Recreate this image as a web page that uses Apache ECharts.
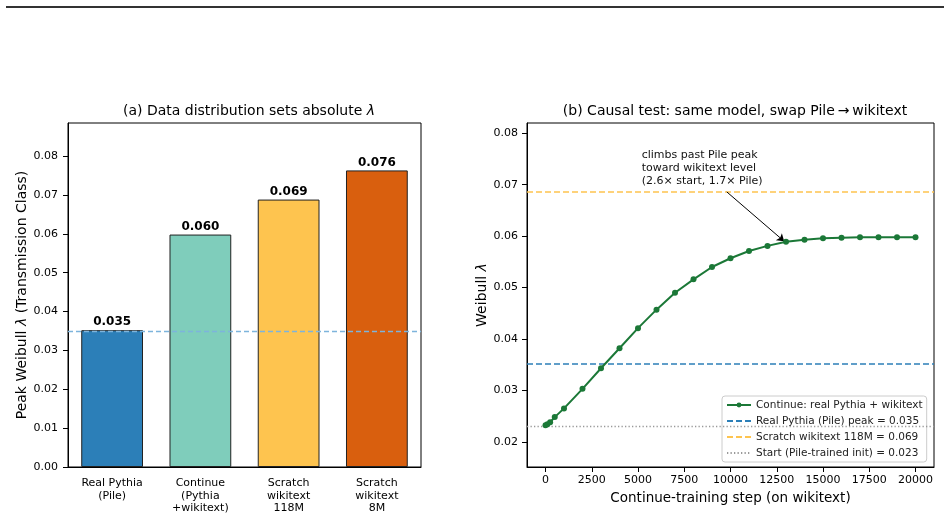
<!DOCTYPE html>
<html lang="en">
<head>
<meta charset="UTF-8" />
<title>Weibull lambda: data distribution</title>
<script src="https://cdn.jsdelivr.net/npm/echarts@6/dist/echarts.min.js"></script>
<style>
    html, body { margin: 0; padding: 0; background: #fff; }
    #main { width: 948px; height: 520px; }
</style>
</head>
<body>
<div id="main"></div>
<script type="text/javascript">
// ---- data (panel a) ----
var barCats = ['Real Pythia\n(Pile)', 'Continue\n(Pythia\n+wikitext)', 'Scratch\nwikitext\n118M', 'Scratch\nwikitext\n8M'];
var barVals = [0.0352, 0.0598, 0.0688, 0.0763];
var barColors = ['#2c7fb8', '#7fcdbb', '#fec44f', '#d95f0e'];
var leftTicks = [0, 0.01, 0.02, 0.03, 0.04, 0.05, 0.06, 0.07, 0.08];
var pileRef = 0.035;

// ---- data (panel b) ----
var steps = [0, 100, 250, 500, 1000, 2000, 3000, 4000, 5000, 6000, 7000, 8000, 9000, 10000,
             11000, 12000, 13000, 14000, 15000, 16000, 17000, 18000, 19000, 20000];
var lambdaVals = [0.0232, 0.0234, 0.0238, 0.0248, 0.0265, 0.0303, 0.0343, 0.0382, 0.0421, 0.0457,
                  0.0490, 0.0516, 0.0540, 0.0557, 0.0571, 0.0581, 0.0589, 0.0593, 0.0596, 0.0597,
                  0.0598, 0.0598, 0.0598, 0.0598];
var pilePeak = 0.0351;
var scratch118 = 0.0687;
var startVal = 0.0231;
var rightYTicks = [0.02, 0.03, 0.04, 0.05, 0.06, 0.07, 0.08];
var rightXTicks = [0, 2500, 5000, 7500, 10000, 12500, 15000, 17500, 20000];

var FONT = 'DejaVu Sans';
var myChart = echarts.init(document.getElementById('main'));

var lam = { fontStyle: 'italic', fontFamily: FONT };
var noSym = { opacity: 0 };

var option = {
    backgroundColor: '#fff',
    textStyle: { fontFamily: FONT, color: '#000' },
    animation: false,
    title: [
        {
            text: '(a) Data distribution sets absolute {i|λ}',
            left: 244, top: 99, textAlign: 'center',
            textStyle: { fontSize: 14, fontWeight: 'normal', color: '#000', fontFamily: FONT,
                rich: { i: Object.assign({ fontSize: 14 }, lam) } }
        },
        {
            text: '(b) Causal test: same model, swap Pile\u2009\u2192\u2009wikitext',
            left: 730, top: 99, textAlign: 'center',
            textStyle: { fontSize: 14, fontWeight: 'normal', color: '#000', fontFamily: FONT }
        }
    ],
    legend: {
        data: [
            { name: 'Continue: real Pythia + wikitext' },
            { name: 'Real Pythia (Pile) peak = 0.035', itemStyle: noSym },
            { name: 'Scratch wikitext 118M = 0.069', itemStyle: noSym },
            { name: 'Start (Pile-trained init) = 0.023', itemStyle: noSym }
        ],
        orient: 'vertical',
        left: 722, top: 396,
        itemWidth: 24, itemHeight: 6, itemGap: 4,
        padding: [3, 4, 3, 4],
        borderColor: '#cccccc', borderWidth: 1, borderRadius: 3,
        backgroundColor: 'rgba(255,255,255,0.85)',
        textStyle: { fontSize: 10.5, lineHeight: 12, color: '#222', fontFamily: FONT }
    },
    grid: [
        { left: 68, top: 123, width: 353, height: 344, show: true, borderColor: '#000', borderWidth: 1 },
        { left: 527, top: 123, width: 407, height: 344, show: true, borderColor: '#000', borderWidth: 1 }
    ],
    xAxis: [
        {
            gridIndex: 0, type: 'category', data: barCats,
            axisLine: { lineStyle: { color: '#000' } },
            axisTick: { alignWithLabel: true, length: 5, lineStyle: { color: '#000' } },
            axisLabel: { interval: 0, fontSize: 11, lineHeight: 12.5, margin: 10, color: '#000' }
        },
        {
            gridIndex: 1, type: 'value', min: -1000, max: 21000,
            name: 'Continue-training step (on wikitext)', nameLocation: 'middle', nameGap: 24,
            nameTextStyle: { fontSize: 13.5, color: '#000' },
            axisLine: { onZero: false, lineStyle: { color: '#000' } },
            axisTick: { length: 5, customValues: rightXTicks, lineStyle: { color: '#000' } },
            axisLabel: { fontSize: 11, margin: 8, color: '#000', customValues: rightXTicks,
                formatter: function (v) { return String(v); } },
            splitLine: { show: false }
        }
    ],
    yAxis: [
        {
            gridIndex: 0, type: 'value', min: 0, max: 0.0885,
            name: 'Peak Weibull {i|λ} (Transmission Class)', nameLocation: 'middle', nameGap: 38,
            nameTextStyle: { fontSize: 14, color: '#000', rich: { i: Object.assign({ fontSize: 14 }, lam) } },
            axisLine: { show: true, onZero: false, lineStyle: { color: '#000' } },
            axisTick: { show: true, length: 5, customValues: leftTicks, lineStyle: { color: '#000' } },
            axisLabel: { fontSize: 11, margin: 10, color: '#000', customValues: leftTicks,
                formatter: function (v) { return v.toFixed(2); } },
            splitLine: { show: false }
        },
        {
            gridIndex: 1, type: 'value', min: 0.0151, max: 0.0820,
            name: 'Weibull {i|λ}', nameLocation: 'middle', nameGap: 36,
            nameTextStyle: { fontSize: 14, color: '#000', rich: { i: Object.assign({ fontSize: 14 }, lam) } },
            axisLine: { show: true, onZero: false, lineStyle: { color: '#000' } },
            axisTick: { show: true, length: 5, customValues: rightYTicks, lineStyle: { color: '#000' } },
            axisLabel: { fontSize: 11, margin: 9, color: '#000', customValues: rightYTicks,
                formatter: function (v) { return v.toFixed(2); } },
            splitLine: { show: false }
        }
    ],
    series: [
        {
            type: 'bar', xAxisIndex: 0, yAxisIndex: 0,
            barWidth: '70%',
            data: barVals.map(function (v, i) {
                return { value: v, itemStyle: { color: barColors[i] } };
            }),
            itemStyle: { borderColor: '#222', borderWidth: 1 },
            label: {
                show: true, position: 'top', distance: 2,
                fontSize: 12, fontWeight: 'bold', color: '#000', fontFamily: FONT,
                formatter: function (p) { return p.value.toFixed(3); }
            },
            markLine: {
                silent: true, symbol: 'none', z: 10, precision: 5,
                label: { show: false },
                emphasis: { disabled: true },
                lineStyle: { color: '#7db4dc', opacity: 1, type: [5, 3], width: 1.4 },
                data: [{ yAxis: pileRef, lineStyle: { color: '#7db4dc' } }]
            }
        },
        {
            name: 'Real Pythia (Pile) peak = 0.035',
            type: 'line', xAxisIndex: 1, yAxisIndex: 1, data: [],
            symbol: 'none', color: '#2c7fb8',
            lineStyle: { color: '#2c7fb8', type: [6, 3], width: 1.5 },
            markLine: {
                silent: true, symbol: 'none', precision: 5, label: { show: false },
                lineStyle: { color: '#2c7fb8', type: [6, 3], width: 1.5 },
                data: [{ yAxis: pilePeak }]
            }
        },
        {
            name: 'Scratch wikitext 118M = 0.069',
            type: 'line', xAxisIndex: 1, yAxisIndex: 1, data: [],
            symbol: 'none', color: '#fec44f',
            lineStyle: { color: '#fec44f', type: [6, 3], width: 1.5 },
            markLine: {
                silent: true, symbol: 'none', precision: 5, label: { show: false },
                lineStyle: { color: '#fec44f', type: [6, 3], width: 1.5 },
                data: [{ yAxis: scratch118 }]
            }
        },
        {
            name: 'Start (Pile-trained init) = 0.023',
            type: 'line', xAxisIndex: 1, yAxisIndex: 1, data: [],
            symbol: 'none', color: '#999999',
            lineStyle: { color: '#999999', type: [1.3, 2.2], width: 1.3 },
            markLine: {
                silent: true, symbol: 'none', precision: 5, label: { show: false },
                lineStyle: { color: '#999999', type: [1.3, 2.2], width: 1.3 },
                data: [{ yAxis: startVal }]
            }
        },
        {
            name: 'Continue: real Pythia + wikitext',
            type: 'line', xAxisIndex: 1, yAxisIndex: 1, z: 5,
            data: steps.map(function (s, i) { return [s, lambdaVals[i]]; }),
            color: '#1b7837',
            symbol: 'circle', symbolSize: 6, showSymbol: true,
            lineStyle: { color: '#1b7837', width: 2 },
            itemStyle: { color: '#1b7837' },
            markLine: {
                silent: true, precision: 5,
                label: { show: false },
                symbolSize: 7,
                lineStyle: { color: '#000', type: 'solid', width: 1 },
                data: [[
                    { coord: [9800, 0.0686], symbol: 'none' },
                    { coord: [12900, 0.0590], symbol: 'arrow' }
                ]]
            }
        }
    ]
};

myChart.setOption(option);

// figure rule on top and annotation text anchored in panel (b) data coordinates
var p = myChart.convertToPixel({ gridIndex: 1 }, [5200, 0.0771]);
myChart.setOption({
    graphic: [
        { type: 'rect', shape: { x: 6, y: 6, width: 938, height: 2 }, style: { fill: '#333' } },
        {
            type: 'text', x: p[0], y: p[1], z: 20,
            style: {
                text: 'climbs past Pile peak\ntoward wikitext level\n(2.6\u00d7 start, 1.7\u00d7 Pile)',
                font: '11px "DejaVu Sans"', fill: '#111', lineHeight: 13,
                textAlign: 'left', textVerticalAlign: 'top'
            }
        }
    ]
});
</script>
</body>
</html>
